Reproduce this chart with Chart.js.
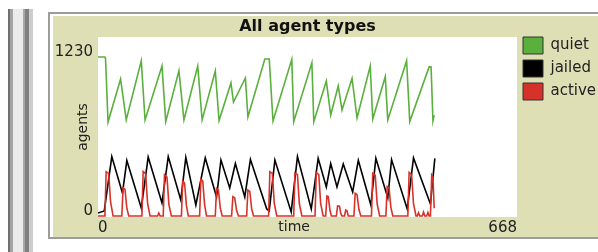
<!DOCTYPE html>
<html lang="en">
<head>
  <meta charset="UTF-8">
  <title>All agent types</title>
  <script src="https://cdn.jsdelivr.net/npm/chart.js"></script>
  <style>
    body { margin: 0; background: #fff; width: 598px; height: 252px; overflow: hidden; position: relative; }
    #bars { position: absolute; left: 8px; top: 9px; width: 25px; height: 243px;
      background: linear-gradient(to right, #6f6f6f 0 2px, #a4a4a4 2px 5px, #ebebeb 5px 15px, #a8a8a8 15px 17px, #808080 17px 21px, #cdcdcd 21px 25px); }
    #frame { position: absolute; left: 48px; top: 12px; width: 600px; height: 223px; border: 2px solid #9c9c9c; background: #fff; }
    #plot { position: absolute; left: 53px; top: 16px; background: #dfdfb6; }
  </style>
</head>
<body>
  <div id="bars"></div>
  <div id="frame"></div>
  <canvas id="plot" width="545" height="221"></canvas>

  <script>
    // values as [tick, agents]
    const quiet = [
      [0,1230],[11,1230],[12,1218],[16,727],[36,1060],[45,743],[69,1201],[75,743],
      [102,1160],[108,730],[129,1124],[137,743],[159,1160],[166,743],[187,1122],[193,739],
      [212,1029],[216,882],[235,1068],[239,766],[266,1215],[273,1215],[279,735],[309,1212],
      [312,730],[341,1186],[344,730],[364,1044],[371,781],[383,1006],[389,820],[405,1065],
      [413,758],[434,1160],[438,750],[458,1078],[462,743],[492,1201],[497,730],[528,1155],
      [531,1153],[534,735],[536,781]
    ];
    const jailed = [
      [0,23],[10,39],[22,460],[39,176],[46,429],[69,62],[80,456],[102,101],[112,460],
      [132,124],[140,453],[156,85],[171,449],[189,147],[196,433],[210,217],[219,406],
      [234,147],[243,437],[269,54],[273,39],[282,433],[308,31],[318,460],[340,54],[351,446],
      [364,224],[371,406],[381,224],[391,402],[406,186],[415,431],[435,85],[443,446],
      [462,139],[468,436],[493,54],[503,449],[530,93],[537,446]
    ];
    const active = [
      [0,0],[11,0],[13,343],[17,330],[20,110],[24,0],
      [38,0],[40,220],[43,205],[46,60],[49,0],
      [70,0],[72,343],[76,325],[79,100],[83,0],
      [95,0],[97,23],[99,0],
      [104,0],[106,318],[110,300],[113,90],[117,0],
      [133,0],[135,271],[138,255],[141,80],[144,0],
      [162,0],[164,286],[167,270],[170,85],[173,0],
      [187,0],[189,214],[192,200],[195,60],[198,0],
      [213,0],[215,149],[218,140],[221,40],[224,0],
      [237,0],[239,201],[242,190],[245,55],[248,0],
      [272,0],[274,343],[278,330],[281,100],[285,0],
      [312,0],[314,333],[318,320],[321,95],[325,0],
      [346,0],[348,337],[352,320],[355,95],[359,0],
      [363,0],[365,155],[367,150],[370,40],[372,0],
      [380,0],[382,77],[385,75],[387,20],[389,0],
      [393,0],[395,46],[397,40],[399,0],
      [408,0],[410,176],[413,165],[416,50],[419,0],
      [436,0],[438,330],[442,315],[445,95],[449,0],
      [459,0],[461,227],[464,215],[467,65],[470,0],
      [494,0],[496,337],[500,320],[503,95],[507,0],
      [509,0],[511,25],[513,0],[517,0],[519,30],[521,0],[524,0],[526,28],[528,0],
      [530,0],[532,317],[534,300],[536,60]
    ];
    const xTicks = [0, 668];
    const yTicks = [0, 1230];

    const toPoints = arr => arr.map(([x, y]) => ({x, y}));

    // white plot area on the khaki widget
    const plotBg = {
      id: 'plotBg',
      beforeDraw(chart) {
        const {ctx, chartArea: a} = chart;
        ctx.save();
        ctx.fillStyle = '#fff';
        ctx.fillRect(a.left, a.top, a.right - a.left, a.bottom - a.top);
        ctx.restore();
      }
    };

    Chart.defaults.font.family = 'DejaVu Sans';
    Chart.defaults.color = '#222';

    new Chart(document.getElementById('plot'), {
      type: 'line',
      data: {
        datasets: [
          { label: 'quiet', data: toPoints(quiet), borderColor: '#59b03c', backgroundColor: '#59b03c', order: 2 },
          { label: 'jailed', data: toPoints(jailed), borderColor: '#000', backgroundColor: '#000', order: 1 },
          { label: 'active', data: toPoints(active), borderColor: '#d73229', backgroundColor: '#d73229', order: 0 }
        ]
      },
      options: {
        responsive: false,
        animation: false,
        devicePixelRatio: 1,
        layout: { padding: { top: 15, left: 0, right: 0, bottom: 0 } },
        elements: {
          line: { borderWidth: 1.6, tension: 0 },
          point: { radius: 0 }
        },
        plugins: {
          tooltip: { enabled: false },
          title: {
            display: true,
            text: 'All agent types',
            fullSize: false,
            color: '#111',
            font: { size: 16, weight: 'bold', lineHeight: 1.2 },
            padding: { top: -14, bottom: 0.8 }
          },
          legend: {
            position: 'right',
            align: 'start',
            fullSize: true,
            maxWidth: 81,
            labels: {
              boxWidth: 20,
              boxHeight: 17,
              padding: 6,
              font: { size: 15 },
              color: '#222',
              generateLabels(chart) {
                return Chart.defaults.plugins.legend.labels.generateLabels(chart)
                  .map(it => Object.assign(it, { strokeStyle: '#333', lineWidth: 1 }));
              },
              sort: (a, b) => a.datasetIndex - b.datasetIndex
            }
          }
        },
        scales: {
          x: {
            type: 'linear',
            min: 0,
            max: 668,
            afterBuildTicks: s => { s.ticks = xTicks.map(v => ({value: v})); },
            afterFit: s => { s.height = 20; },
            grid: { display: false, drawTicks: false },
            border: { display: false },
            ticks: { align: 'inner', padding: 2, font: { size: 15 }, maxRotation: 0, callback: v => String(v) },
            title: { display: true, text: 'time      ', font: { size: 14 }, padding: { top: 0, bottom: 1 } }
          },
          y: {
            min: -8,
            max: 1385,
            afterBuildTicks: s => { s.ticks = yTicks.map(v => ({value: v})); },
            afterFit: s => { s.width = 45; },
            grid: { display: false, drawTicks: false },
            border: { display: false },
            ticks: { padding: 5, labelOffset: -5, font: { size: 15 }, callback: v => String(v) },
            title: { display: true, text: 'agents', font: { size: 14 }, padding: { top: 22, bottom: 0 } }
          }
        }
      },
      plugins: [plotBg]
    });
  </script>
</body>
</html>
